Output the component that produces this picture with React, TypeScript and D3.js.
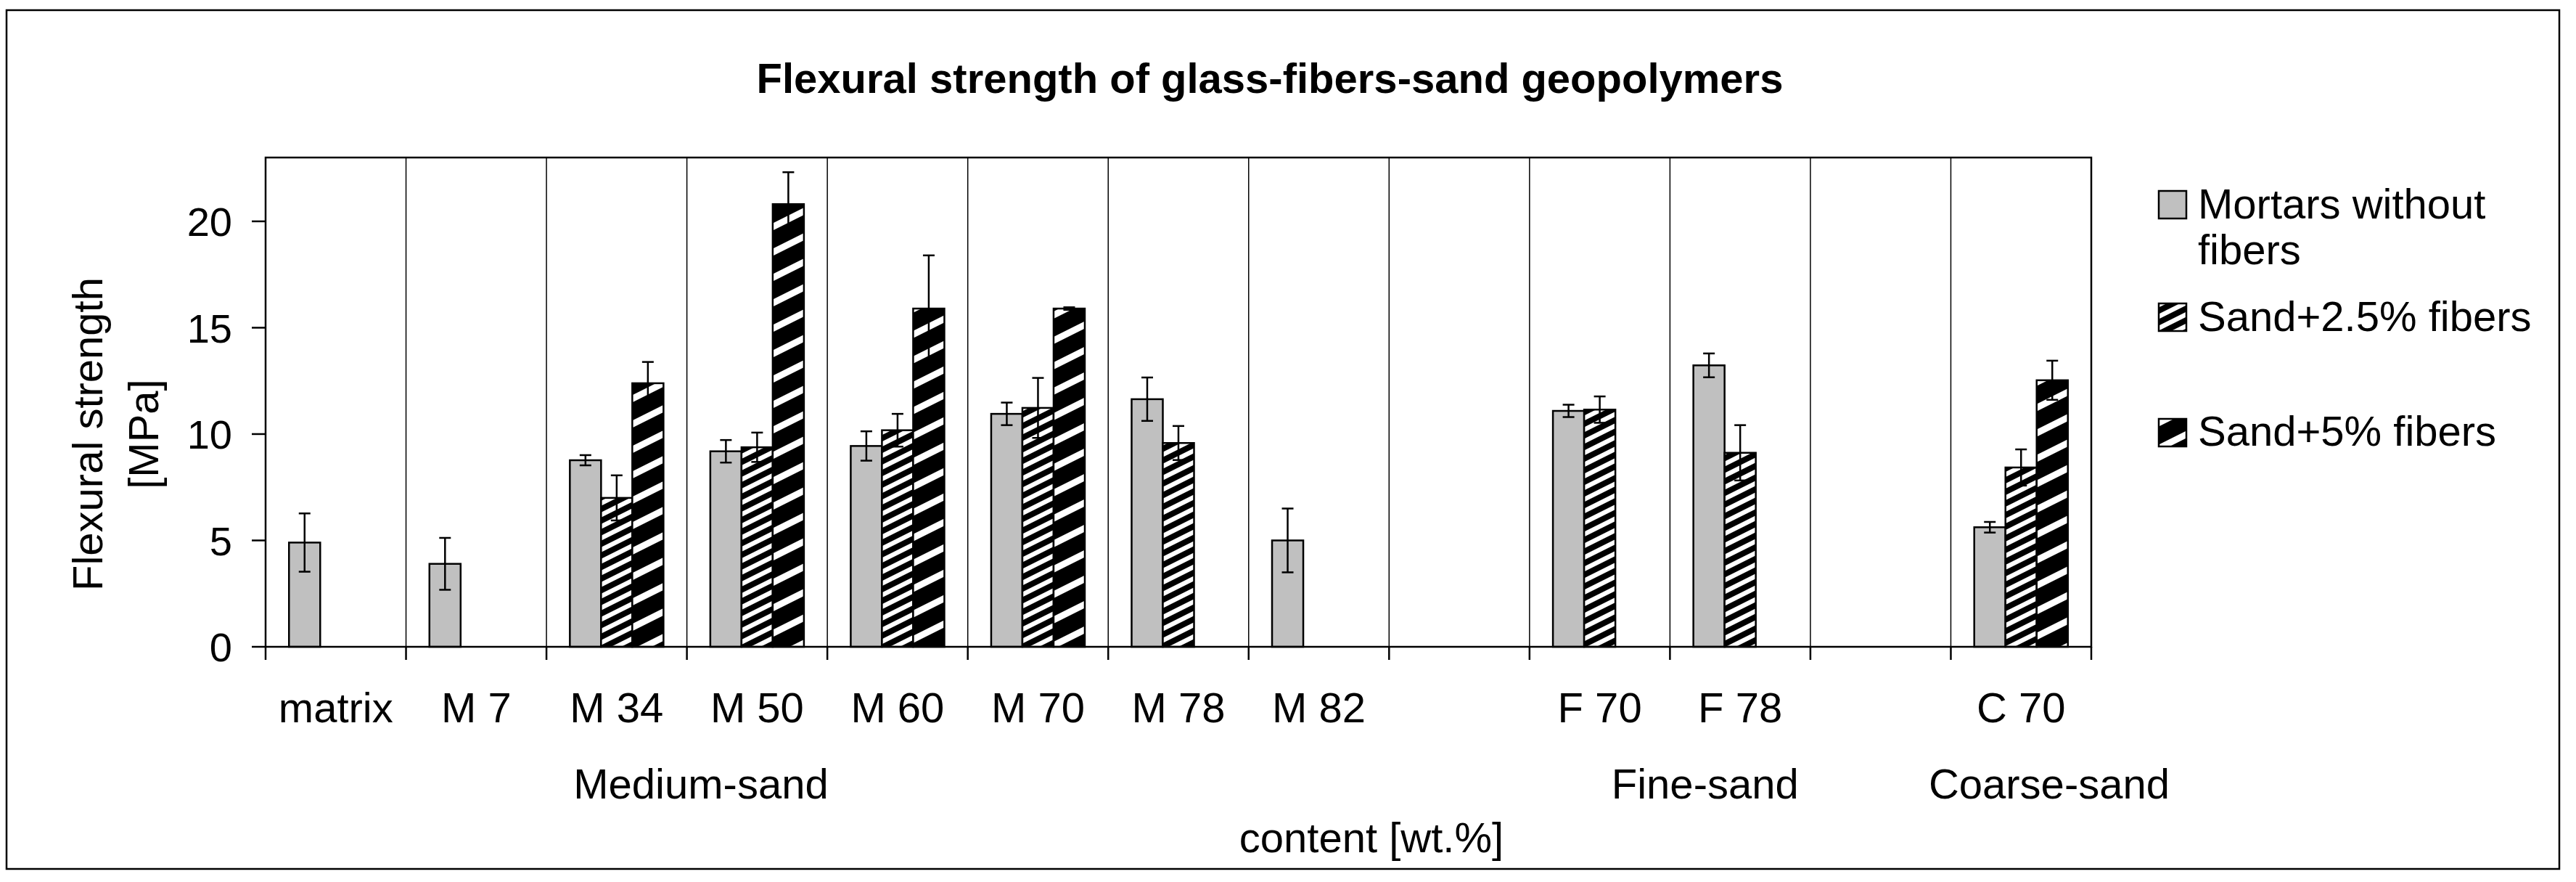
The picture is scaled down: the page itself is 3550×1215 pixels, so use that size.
import React from 'react';
import * as d3 from 'd3';

// ---------- data ----------
const categories = ["matrix", "M 7", "M 34", "M 50", "M 60", "M 70", "M 78", "M 82", "", "F 70", "F 78", "", "C 70"];
const seriesNames = ["Mortars without fibers", "Sand+2.5% fibers", "Sand+5% fibers"];
const mortars: (number | null)[] = [4.9, 3.9, 8.77, 9.19, 9.44, 10.95, 11.64, 5.0, null, 11.09, 13.23, null, 5.62];
const mortarsErr: (number | null)[] = [1.37, 1.22, 0.24, 0.53, 0.69, 0.53, 1.02, 1.5, null, 0.29, 0.56, null, 0.25];
const sand25: (number | null)[] = [null, null, 7.0, 9.38, 10.18, 11.23, 9.58, null, null, 11.15, 9.12, null, 8.43];
const sand25Err: (number | null)[] = [null, null, 1.06, 0.69, 0.77, 1.41, 0.8, null, null, 0.62, 1.3, null, 0.85];
const sand5: (number | null)[] = [null, null, 12.39, 20.81, 15.9, 15.9, null, null, null, null, null, null, 12.53];
const sand5Err: (number | null)[] = [null, null, 1.0, 1.5, 2.5, 0.06, null, null, null, null, null, null, 0.92];
const yTicks = [0, 5, 10, 15, 20];
const yMax = 23;
const groupLabels = ["Medium-sand", "Fine-sand", "Coarse-sand"];
const title = "Flexural strength of glass-fibers-sand geopolymers";
const xTitle = "content [wt.%]";
const yTitleLines = ["Flexural strength", "[MPa]"];

// ---------- layout ----------
const W = 3550, H = 1215;
const P = { left: 366, right: 2882, top: 217, bottom: 891 };
const groupAnchor = [3.1, 10.25, 12.7]; // in category units along the x axis
const FONT = "'Liberation Sans', Arial, sans-serif";
const fills = ["#C0C0C0", "url(#p25)", "url(#p5)"];

function stripePolys(w: number, h: number, t: number) {
  const polys: string[] = [];
  for (const c of [-h, 0, h, 2 * h]) {
    polys.push(`0,${c} ${w},${c - h} ${w},${c - h + t} 0,${c + t}`);
  }
  return polys;
}

export default function App() {
  const idx = d3.range(categories.length);
  const x = d3.scaleBand<number>().domain(idx).range([P.left, P.right]).paddingInner(0).paddingOuter(0);
  const band = x.bandwidth();
  const xs = d3.scaleBand<number>().domain([0, 1, 2]).range([0, band]).paddingInner(0).paddingOuter(0.75);
  const y = d3.scaleLinear().domain([0, yMax]).range([P.bottom, P.top]);
  const catUnit = d3.scaleLinear().domain([0, categories.length]).range([P.left, P.right]);

  const series = [
    { values: mortars, err: mortarsErr },
    { values: sand25, err: sand25Err },
    { values: sand5, err: sand5Err },
  ];
  const boundaries = d3.range(categories.length + 1);

  const p25 = stripePolys(32, 16, 7);
  const p5 = stripePolys(70, 35, 10);

  return (
    <svg width={W} height={H} style={{ position: 'absolute', left: 0, top: 0, background: '#fff' }} fontFamily={FONT}>
      <defs>
        <pattern id="p25" patternUnits="userSpaceOnUse" width={32} height={16}>
          <rect width={32} height={16} fill="#000" />
          {p25.map((pt, i) => <polygon key={i} points={pt} fill="#fff" />)}
        </pattern>
        <pattern id="p5" patternUnits="userSpaceOnUse" width={70} height={35}>
          <rect width={70} height={35} fill="#000" />
          {p5.map((pt, i) => <polygon key={i} points={pt} fill="#fff" />)}
        </pattern>
      </defs>
      <rect x={0} y={0} width={W} height={H} fill="#fff" />
      {/* outer border */}
      <rect x={9} y={14} width={3518} height={1183} fill="none" stroke="#000" strokeWidth={2.5} />

      {/* title */}
      <text x={1750} y={128} textAnchor="middle" fontSize={58} fontWeight="bold">{title}</text>

      {/* vertical gridlines at category boundaries */}
      {boundaries.slice(1, -1).map(b => (
        <line key={b} x1={catUnit(b)} x2={catUnit(b)} y1={P.top} y2={P.bottom} stroke="#000" strokeWidth={1.5} />
      ))}

      {/* bars */}
      {series.map((s, si) => s.values.map((v, ci) => v == null ? null : (
        <rect key={`${si}-${ci}`} x={(x(ci) as number) + (xs(si) as number)} y={y(v)}
          width={xs.bandwidth()} height={y(0) - y(v)} fill={fills[si]} stroke="#000" strokeWidth={2.5} />
      )))}

      {/* error bars */}
      {series.map((s, si) => s.values.map((v, ci) => {
        const e = s.err[ci];
        if (v == null || e == null) return null;
        const cx = (x(ci) as number) + (xs(si) as number) + xs.bandwidth() / 2;
        return (
          <g key={`e${si}-${ci}`} stroke="#000" strokeWidth={2.5}>
            <line x1={cx} x2={cx} y1={y(v + e)} y2={y(v - e)} />
            <line x1={cx - 8} x2={cx + 8} y1={y(v + e)} y2={y(v + e)} />
            <line x1={cx - 8} x2={cx + 8} y1={y(v - e)} y2={y(v - e)} />
          </g>
        );
      }))}

      {/* plot border */}
      <rect x={P.left} y={P.top} width={P.right - P.left} height={P.bottom - P.top} fill="none" stroke="#000" strokeWidth={2.5} />

      {/* y axis ticks */}
      {yTicks.map(t => (
        <g key={t}>
          <line x1={P.left - 19} x2={P.left} y1={y(t)} y2={y(t)} stroke="#000" strokeWidth={2.5} />
          <text x={320} y={y(t)} dy="0.36em" textAnchor="end" fontSize={56}>{t}</text>
        </g>
      ))}

      {/* x axis tick marks */}
      {boundaries.map(b => (
        <line key={b} x1={catUnit(b)} x2={catUnit(b)} y1={P.bottom} y2={P.bottom + 18} stroke="#000" strokeWidth={2.5} />
      ))}

      {/* category labels */}
      {categories.map((c, i) => (
        <text key={i} x={(x(i) as number) + band / 2} y={995} textAnchor="middle" fontSize={58}>{c}</text>
      ))}

      {/* group labels */}
      {groupLabels.map((g, i) => (
        <text key={g} x={catUnit(groupAnchor[i])} y={1100} textAnchor="middle" fontSize={58}>{g}</text>
      ))}

      {/* axis titles */}
      <text x={1890} y={1174} textAnchor="middle" fontSize={58}>{xTitle}</text>
      {yTitleLines.map((l, i) => (
        <text key={l} transform={`translate(${141 + i * 77},598) rotate(-90)`} textAnchor="middle" fontSize={58}>{l}</text>
      ))}

      {/* legend */}
      <g>
        {[263, 418, 577].map((ty, i) => (
          <rect key={i} x={2975} y={ty} width={38} height={38} fill={fills[i]} stroke="#000" strokeWidth={2.5} />
        ))}
        <text x={3029} y={301} fontSize={58}>Mortars without</text>
        <text x={3029} y={364} fontSize={58}>fibers</text>
        <text x={3029} y={456} fontSize={58}>{seriesNames[1]}</text>
        <text x={3029} y={614} fontSize={58}>{seriesNames[2]}</text>
      </g>
    </svg>
  );
}
